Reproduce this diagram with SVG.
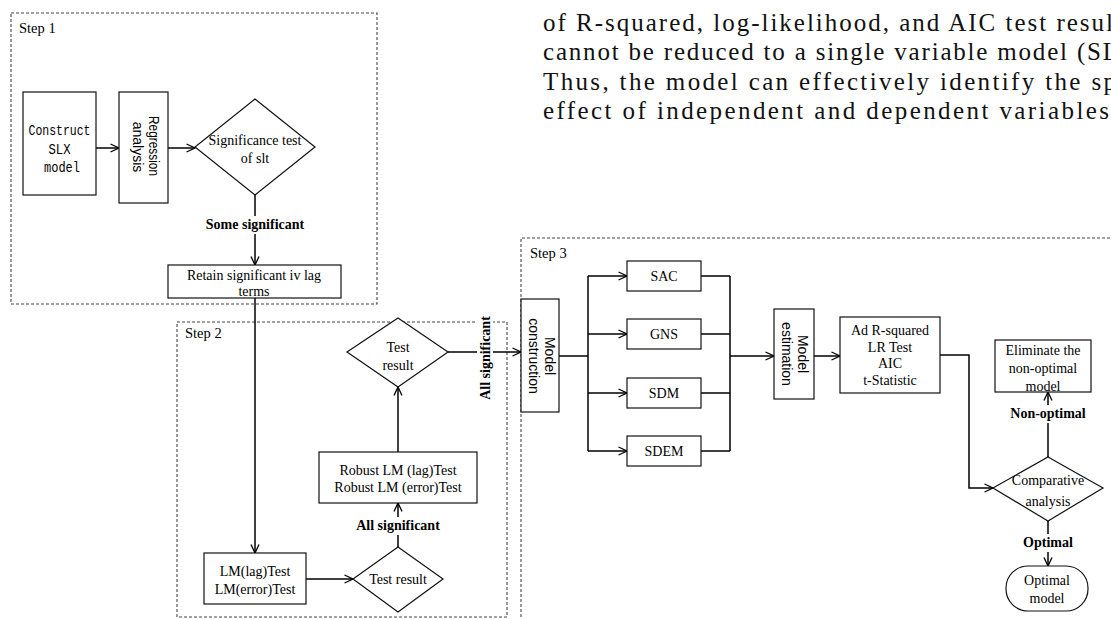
<svg xmlns="http://www.w3.org/2000/svg" width="1111" height="619" viewBox="0 0 1111 619">
<style>
.bg{fill:#fff}
.step{fill:none;stroke:#444;stroke-width:1.1;stroke-dasharray:3,2}
.box{fill:#fff;stroke:#111;stroke-width:1.2}
.ln{fill:none;stroke:#000;stroke-width:1.5}
.t{font-family:"Liberation Serif","Times New Roman",serif;font-size:14px;fill:#000;text-anchor:middle}
.b{font-family:"Liberation Serif","Times New Roman",serif;font-size:14px;font-weight:bold;fill:#000;text-anchor:middle}
.s{font-family:"Liberation Sans",Arial,sans-serif;font-size:14px;fill:#000;text-anchor:middle}
.m{font-family:"Liberation Mono","Courier New",monospace;font-size:15px;fill:#000;text-anchor:middle}
.lab{font-family:"Liberation Serif","Times New Roman",serif;font-size:14.5px;fill:#000}
.para{font-family:"Liberation Serif","Times New Roman",serif;font-size:25px;fill:#111}
</style>
<defs>
<marker id="arr" viewBox="0 0 10 10" refX="9.5" refY="5" markerWidth="10" markerHeight="10" markerUnits="userSpaceOnUse" orient="auto">
<path d="M1,1 L9.5,5 L1,9" fill="none" stroke="#000" stroke-width="1.3"/>
</marker>
</defs>
<rect class="bg" x="0" y="0" width="1111" height="619"/>

<g id="paragraph">
<text class="para" x="543" y="30.5" textLength="570" lengthAdjust="spacing">of R-squared, log-likelihood, and AIC test resul</text>
<text class="para" x="543" y="60" textLength="575" lengthAdjust="spacing">cannot be reduced to a single variable model (SL</text>
<text class="para" x="543" y="89.5" textLength="573" lengthAdjust="spacing">Thus, the model can effectively identify the sp</text>
<text class="para" x="543" y="119" textLength="566" lengthAdjust="spacing">effect of independent and dependent variables</text>
</g>

<g id="steps">
<rect class="step" x="11" y="13" width="366" height="291"/>
<text class="lab" x="19" y="33">Step 1</text>
<rect class="step" x="177" y="322" width="330" height="295"/>
<text class="lab" x="185" y="338">Step 2</text>
<path class="step" d="M1115,238 H521 V625"/>
<text class="lab" x="530" y="258">Step 3</text>
</g>

<g id="connectors">
<line class="ln" x1="96" y1="148" x2="119" y2="148" marker-end="url(#arr)"/>
<line class="ln" x1="168" y1="148" x2="195" y2="148" marker-end="url(#arr)"/>
<line class="ln" x1="255" y1="195" x2="255" y2="265" marker-end="url(#arr)"/>
<line class="ln" x1="255" y1="298" x2="255" y2="553" marker-end="url(#arr)"/>
<line class="ln" x1="306" y1="579" x2="353" y2="579" marker-end="url(#arr)"/>
<line class="ln" x1="398" y1="547" x2="398" y2="503" marker-end="url(#arr)"/>
<line class="ln" x1="398" y1="452" x2="398" y2="387" marker-end="url(#arr)"/>
<line class="ln" x1="448" y1="352" x2="521" y2="352" marker-end="url(#arr)"/>
<line class="ln" x1="559" y1="356" x2="588" y2="356"/>
<line class="ln" x1="588" y1="276" x2="588" y2="451"/>
<line class="ln" x1="588" y1="276" x2="627" y2="276" marker-end="url(#arr)"/>
<line class="ln" x1="588" y1="334" x2="627" y2="334" marker-end="url(#arr)"/>
<line class="ln" x1="588" y1="393" x2="627" y2="393" marker-end="url(#arr)"/>
<line class="ln" x1="588" y1="451" x2="627" y2="451" marker-end="url(#arr)"/>
<path class="ln" d="M701,276 H730 M701,334 H730 M701,393 H730 M701,451 H730 M730,276 V451"/>
<line class="ln" x1="730" y1="356" x2="774" y2="356" marker-end="url(#arr)"/>
<line class="ln" x1="814" y1="356" x2="840" y2="356" marker-end="url(#arr)"/>
<path class="ln" d="M940,355 H969 V488 H993" marker-end="url(#arr)"/>
<line class="ln" x1="1048" y1="457" x2="1048" y2="392" marker-end="url(#arr)"/>
<line class="ln" x1="1048" y1="521" x2="1048" y2="566" marker-end="url(#arr)"/>
<rect class="bg" x="204" y="216" width="102" height="18"/>
<text class="b" x="255" y="229">Some significant</text>
<rect class="bg" x="352" y="517" width="92" height="18"/>
<text class="b" x="398" y="530">All significant</text>
<rect class="bg" x="477" y="310" width="16" height="96"/>
<text class="b" transform="translate(490,358) rotate(-90)" x="0" y="0">All significant</text>
<rect class="bg" x="1008" y="405" width="80" height="18"/>
<text class="b" x="1048" y="418">Non-optimal</text>
<rect class="bg" x="1020" y="534" width="56" height="18"/>
<text class="b" x="1048" y="547">Optimal</text>
</g>

<g id="construct-slx">
<rect class="box" x="23" y="92" width="73" height="103"/>
<text class="m" x="59.5" y="135" textLength="62" lengthAdjust="spacingAndGlyphs">Construct</text>
<text class="m" x="59.5" y="154" textLength="22" lengthAdjust="spacingAndGlyphs">SLX</text>
<text class="m" x="62" y="172" textLength="36" lengthAdjust="spacingAndGlyphs">model</text>
</g>

<g id="regression">
<rect class="box" x="119" y="92" width="49" height="111"/>
<text class="s" transform="translate(149,146) rotate(90)" textLength="60" lengthAdjust="spacingAndGlyphs">Regression</text>
<text class="s" transform="translate(133,147) rotate(90)">analysis</text>
</g>

<g id="significance-test">
<polygon class="box" points="255,99 315,147 255,195 195,147"/>
<text class="t" x="255" y="145">Significance test</text>
<text class="t" x="255" y="163">of slt</text>
</g>

<g id="retain">
<rect class="box" x="168" y="265" width="173" height="33"/>
<text class="t" x="254" y="280">Retain significant iv lag</text>
<text class="t" x="254" y="296">terms</text>
</g>

<g id="lm-test">
<rect class="box" x="204" y="553" width="102" height="51"/>
<text class="t" x="255" y="576">LM(lag)Test</text>
<text class="t" x="255" y="594">LM(error)Test</text>
</g>

<g id="test-result-1">
<polygon class="box" points="398,547 443,579 398,612 353,579"/>
<text class="t" x="398" y="584">Test result</text>
</g>

<g id="robust-lm">
<rect class="box" x="319" y="452" width="158" height="51"/>
<text class="t" x="398" y="475">Robust LM (lag)Test</text>
<text class="t" x="398" y="492">Robust LM (error)Test</text>
</g>

<g id="test-result-2">
<polygon class="box" points="398,318 448,352 398,387 347,352"/>
<text class="t" x="398" y="352">Test</text>
<text class="t" x="398" y="370">result</text>
</g>

<g id="model-construction">
<rect class="box" x="521" y="299" width="38" height="113"/>
<text class="s" transform="translate(545,356) rotate(90)">Model</text>
<text class="s" transform="translate(529,356) rotate(90)">construction</text>
</g>

<g id="sac">
<rect class="box" x="627" y="261" width="74" height="30"/>
<text class="t" x="664" y="281">SAC</text>
</g>
<g id="gns">
<rect class="box" x="627" y="319" width="74" height="30"/>
<text class="t" x="664" y="339">GNS</text>
</g>
<g id="sdm">
<rect class="box" x="627" y="378" width="74" height="30"/>
<text class="t" x="664" y="398">SDM</text>
</g>
<g id="sdem">
<rect class="box" x="627" y="436" width="74" height="30"/>
<text class="t" x="664" y="456">SDEM</text>
</g>

<g id="model-estimation">
<rect class="box" x="774" y="309" width="40" height="90"/>
<text class="s" transform="translate(798,354) rotate(90)">Model</text>
<text class="s" transform="translate(782,354) rotate(90)">estimation</text>
</g>

<g id="criteria">
<rect class="box" x="840" y="317" width="100" height="76"/>
<text class="t" x="890" y="335">Ad R-squared</text>
<text class="t" x="890" y="351.5">LR Test</text>
<text class="t" x="890" y="368">AIC</text>
<text class="t" x="890" y="384.5">t-Statistic</text>
</g>

<g id="eliminate">
<rect class="box" x="995" y="340" width="96" height="52"/>
<text class="t" x="1043" y="355">Eliminate the</text>
<text class="t" x="1043" y="373">non-optimal</text>
<text class="t" x="1043" y="391">model</text>
</g>

<g id="comparative">
<polygon class="box" points="1048,457 1103,488 1048,521 993,488"/>
<text class="t" x="1048" y="485">Comparative</text>
<text class="t" x="1048" y="506">analysis</text>
</g>

<g id="optimal-model">
<rect class="box" x="1006" y="566" width="82" height="45" rx="22" ry="22"/>
<text class="t" x="1047" y="585">Optimal</text>
<text class="t" x="1047" y="603">model</text>
</g>
</svg>
